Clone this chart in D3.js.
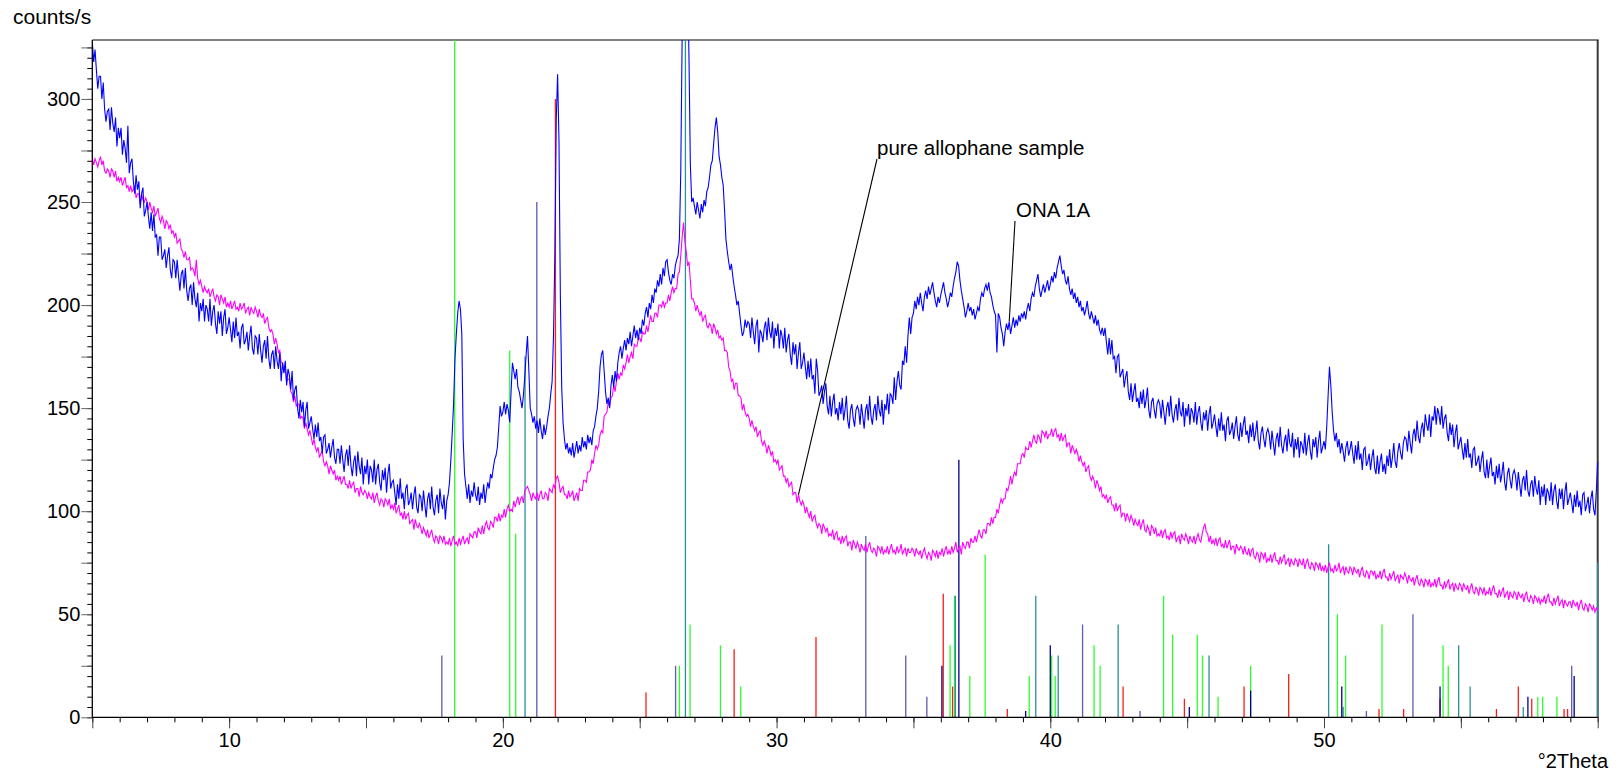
<!DOCTYPE html>
<html>
<head>
<meta charset="utf-8">
<script src="https://cdn.jsdelivr.net/npm/d3@7"></script>
<style>
  html, body { margin: 0; padding: 0; background: #fff; }
  svg { display: block; font-family: "Liberation Sans", Arial, sans-serif; }
</style>
</head>
<body>
<svg id="chart" width="1619" height="775"></svg>
<script>
// Scan grid (°2Theta): 5.00 ... 60.00 in steps of 0.05
const scanStart = 5.0;
const scanStep = 0.05;

// Measured pattern of sample ONA 1A (counts/s); one row per degree
const ona1A = [
  328,318,324,314,305,311,311,300,308,295,289,294,295,285,296,288,284,291,277,286,
  281,286,273,280,276,269,287,264,269,271,260,254,263,256,260,247,254,257,243,246,
  250,243,237,245,236,244,233,234,224,233,233,222,224,227,218,224,228,217,213,222,
  221,213,222,214,207,215,217,208,218,207,202,208,210,200,211,203,199,206,192,201,
  197,203,192,200,198,192,203,190,197,200,191,186,197,191,197,185,194,198,186,189,
  194,188,182,192,184,194,185,187,179,189,191,181,183,187,178,185,190,179,176,185,
  184,176,186,178,172,180,183,174,185,174,169,176,178,169,180,173,169,177,163,172,
  167,173,161,169,166,159,168,154,159,161,150,145,154,148,153,141,149,153,140,143,
  146,140,135,142,136,143,134,136,128,136,137,128,130,133,126,131,135,126,123,130,
  130,123,132,125,119,127,130,122,132,122,117,124,127,117,129,122,118,126,113,122,
  118,125,113,122,120,114,125,113,120,123,114,110,120,115,121,109,118,123,111,114,
  115,109,103,113,106,116,106,109,101,111,113,103,105,109,101,108,112,102,99,108,
  107,100,110,103,97,106,109,101,112,102,98,105,108,99,111,104,101,108,96,105,
  108,114,125,138,152,174,186,196,202,198,186,135,118,112,106,113,104,110,107,114,
  108,105,112,103,109,106,113,104,110,114,111,118,116,121,125,127,131,141,151,146,
  148,153,147,152,149,143,158,172,168,164,169,160,158,154,150,156,165,176,185,168,
  150,147,143,146,140,144,138,145,139,135,142,137,141,146,150,157,163,185,225,290,
  312,280,205,160,143,135,130,133,128,131,127,133,126,130,134,128,132,129,136,131,
  134,130,137,133,136,132,139,141,146,150,158,170,176,178,168,158,152,155,150,161,
  166,160,168,163,172,177,180,174,179,183,178,184,181,187,180,185,190,184,188,183,
  189,186,193,190,196,199,194,201,198,205,201,208,206,212,209,215,210,218,214,221,
  222,216,212,210,215,213,219,222,224,232,265,330,420,480,440,360,320,268,250,252,
  248,244,250,246,242,249,245,251,248,255,257,262,268,270,278,286,291,284,272,268,
  262,258,246,232,226,221,217,220,214,209,205,200,202,196,190,185,187,193,189,192,
  191,184,194,187,181,190,193,177,188,186,182,189,192,183,194,187,184,192,179,189,
  185,191,179,188,185,179,189,177,183,186,176,171,182,176,181,169,177,182,169,172,
  177,170,164,173,165,174,164,166,157,174,168,156,158,161,152,158,162,151,147,156,
  146,153,157,147,150,144,153,147,155,144,149,156,144,140,149,152,145,141,149,151,
  149,142,152,146,140,149,152,144,156,146,142,149,152,144,156,149,146,154,142,152,
  149,157,147,157,156,152,165,154,163,168,161,159,173,171,180,172,185,194,186,194,
  196,202,198,204,200,206,201,197,204,207,203,209,205,208,211,206,202,199,204,201,
  205,208,211,206,203,199,202,206,204,209,213,216,221,219,212,207,203,199,194,197,
  201,197,199,195,198,193,196,199,197,203,206,204,208,210,207,211,206,204,200,197,
  195,177,196,194,189,186,180,187,191,188,192,186,190,194,189,193,190,195,192,196,
  194,197,193,198,201,197,203,206,204,209,212,215,208,204,207,210,206,209,212,207,
  210,214,211,216,213,218,221,224,219,215,217,212,210,214,208,205,208,203,206,201,
  204,199,202,197,199,195,198,202,196,193,197,194,191,195,190,193,188,186,189,185,
  189,182,176,184,176,183,174,175,167,175,176,165,167,169,160,165,168,158,154,162,
  153,158,162,153,155,150,158,152,159,150,154,160,149,145,153,155,149,145,152,154,
  152,145,154,148,142,150,153,146,156,147,143,149,152,144,155,148,146,153,141,150,
  146,152,142,150,148,143,153,142,148,151,143,139,148,144,149,139,147,151,140,143,
  147,141,136,145,139,148,139,142,134,144,146,137,139,143,135,141,146,137,134,143,
  136,142,146,137,139,133,142,136,143,134,138,144,134,130,138,141,135,131,138,140,
  137,130,139,133,127,135,138,131,141,132,128,134,137,129,140,133,131,138,126,135,
  130,136,126,134,132,128,138,127,133,137,129,125,135,131,136,126,134,139,128,131,
  134,130,141,156,170,161,148,139,134,138,131,135,128,133,129,124,131,134,127,130,
  134,128,123,132,125,134,125,128,120,130,131,122,124,128,120,126,130,121,118,127,
  118,124,128,119,123,118,127,122,130,121,126,133,124,121,129,133,128,125,133,136,
  135,129,139,133,128,137,140,134,144,136,133,140,143,136,147,142,139,147,136,146,
  144,151,142,150,147,142,151,140,145,147,138,134,143,137,142,131,138,142,130,133,
  136,130,125,133,126,135,126,128,121,130,131,122,124,127,119,125,129,119,116,125,
  116,122,126,117,119,113,122,116,123,114,118,124,114,110,118,121,115,111,118,120,
  117,110,119,113,107,115,117,110,120,110,107,113,115,107,117,111,108,115,103,112,
  107,113,103,111,109,105,114,103,110,113,105,101,111,106,111,101,109,114,103,106,
  109,104,99,108,102,110,102,105,98,108,109,100,103,107,99,106,110,101,98,110,
  124
];

// Measured pattern of the pure allophane sample (counts/s); one row per degree
const allophane = [
  271,268,271,269,267,270,272,268,270,265,264,266,265,262,266,265,262,265,260,262,
  260,262,258,260,262,257,258,255,258,255,256,258,252,254,254,249,254,251,250,252,
  250,246,250,247,245,248,243,245,247,242,240,243,241,237,241,240,237,239,235,236,
  233,235,230,231,232,227,226,223,226,222,222,223,217,218,217,214,222,213,210,212,
  209,206,209,207,206,208,204,206,208,204,202,205,204,200,205,203,201,204,199,201,
  199,202,198,200,202,198,199,197,201,198,199,201,196,198,199,195,199,197,196,199,
  197,194,198,195,194,196,191,193,194,189,187,188,186,181,184,181,177,178,172,172,
  168,169,163,164,164,158,157,153,156,151,152,152,145,146,145,140,143,140,137,139,
  136,132,135,131,129,131,126,128,129,124,122,124,122,118,122,120,118,120,115,117,
  115,117,113,115,117,113,113,111,115,111,113,114,109,111,111,107,112,109,108,110,
  109,106,109,107,106,109,104,107,109,105,103,106,105,102,106,105,103,106,101,103,
  101,104,99,101,103,98,99,96,100,96,98,99,94,95,96,91,96,93,92,94,
  92,89,92,90,88,91,87,89,91,87,85,88,87,84,88,87,85,88,84,85,
  84,87,83,86,88,84,85,83,87,84,86,88,84,86,87,84,89,88,87,90,
  90,87,92,90,89,93,89,93,95,92,91,95,94,92,97,97,95,99,95,98,
  97,101,97,101,103,100,101,100,105,102,105,107,103,106,107,104,110,111,112,110,
  108,105,109,107,106,109,105,108,110,106,106,109,108,105,111,110,109,113,111,116,
  117,114,109,111,112,108,108,106,110,107,108,110,105,107,109,105,111,110,110,115,
  115,114,119,119,120,125,123,128,132,130,132,137,139,138,146,147,148,153,151,155,
  156,161,158,163,167,164,167,166,171,169,172,176,172,175,177,174,181,180,180,184,
  184,182,187,186,186,190,187,191,195,192,192,196,196,194,200,200,199,202,199,201,
  201,205,202,206,209,206,208,208,215,216,224,233,240,231,226,219,221,212,203,203,
  201,197,200,197,195,197,192,194,195,190,189,191,190,186,191,189,186,188,184,185,
  183,184,178,178,177,170,168,163,164,159,162,162,156,156,155,149,152,148,146,147,
  145,141,144,141,139,141,136,138,139,134,132,134,132,128,132,130,127,129,124,125,
  123,125,120,121,122,117,117,114,116,112,113,114,108,109,109,104,108,105,103,105,
  103,99,102,99,97,100,95,97,98,94,92,94,93,89,94,92,90,92,88,89,
  88,91,86,89,90,86,87,84,88,85,87,88,83,85,85,81,86,84,82,85,
  83,80,84,82,81,84,80,83,85,81,80,82,81,78,83,82,80,83,79,81,
  80,83,79,82,84,80,81,79,83,80,81,84,79,81,82,78,82,80,80,82,
  81,78,82,80,79,81,77,80,82,79,77,80,79,76,81,80,78,81,77,80,
  79,82,78,81,83,79,81,79,83,80,82,85,80,82,83,79,85,83,82,85,
  85,82,87,85,85,88,85,88,91,88,87,91,91,89,94,94,93,97,94,97,
  97,101,99,103,106,104,106,106,111,110,113,117,113,117,119,117,123,123,123,127,
  128,126,131,130,130,134,131,134,137,134,133,137,136,133,139,138,136,139,135,137,
  137,140,136,139,140,136,137,134,138,134,136,137,131,133,133,128,132,130,128,130,
  128,124,127,124,122,124,119,121,122,117,115,117,115,111,115,113,110,112,107,108,
  106,108,104,106,107,103,103,100,104,100,102,103,97,99,99,95,99,97,95,98,
  96,93,96,94,93,96,91,94,96,91,90,93,91,88,93,92,89,92,88,89,
  88,91,87,90,91,87,88,86,90,87,89,90,85,87,88,84,89,87,86,89,
  87,84,88,86,85,88,84,87,89,86,85,89,92,94,90,89,85,88,84,86,
  84,87,83,86,87,83,84,82,86,82,84,86,81,83,83,79,84,82,81,83,
  82,79,83,80,79,82,78,81,82,78,77,80,79,75,80,79,77,80,75,77,
  76,79,75,78,80,76,76,74,78,75,77,79,74,76,77,73,77,75,74,77,
  76,73,77,75,74,77,72,75,77,73,72,75,74,71,75,74,72,75,71,73,
  71,74,70,73,75,71,72,70,74,71,72,75,70,72,73,69,73,71,70,73,
  72,69,73,71,70,72,68,71,73,69,68,71,70,67,71,71,69,71,67,69,
  68,71,67,70,72,68,68,66,70,67,69,71,66,68,69,65,69,68,67,70,
  68,65,69,67,66,68,64,67,69,65,64,67,66,63,67,66,64,67,63,65,
  64,67,63,66,68,64,64,62,66,63,65,67,62,64,65,61,65,63,62,65,
  64,61,65,63,62,64,60,63,65,61,60,63,62,59,63,62,60,63,59,61,
  60,63,59,62,64,60,60,58,62,59,61,63,58,60,61,57,61,59,58,61,
  60,57,61,59,58,60,56,59,61,57,56,59,58,55,59,58,56,58,55,57,
  56,59,55,58,60,56,56,54,58,55,57,59,54,56,57,53,57,55,54,56,
  56,53,57,55,54,56,52,55,57,53,52,55,54,51,55,54,52,54,51,53,
  52
];

// Reference line patterns: positions (°2Theta) and intensities per phase
const greenPos = [18.24, 20.25, 20.47, 26.45, 26.84, 27.95, 28.69, 36.34, 36.50, 37.06, 37.62, 39.23, 40.05, 40.18, 41.60, 41.82, 44.14, 44.47, 45.37, 45.56, 46.13, 47.32, 50.49, 50.79, 52.12, 54.35, 54.54, 57.81, 57.99, 58.51];
const greenInt = [340, 178, 89, 25, 45, 35, 15, 35, 59, 20, 79, 20, 30, 20, 35, 25, 59, 40, 40, 30, 10, 25, 50, 30, 45, 35, 25, 10, 10, 10];

const redPos = [21.92, 25.23, 28.45, 31.44, 36.09, 36.43, 38.43, 42.66, 44.90, 47.08, 48.71, 52.01, 52.91, 54.24, 56.30, 57.10, 57.59, 58.77, 58.90];
const redInt = [300, 12, 33, 39, 60, 15, 4, 15, 9, 15, 21, 4, 4, 9, 4, 15, 9, 4, 4];

const slatePos = [17.77, 21.24, 26.31, 33.26, 34.72, 35.49, 41.18, 43.28, 51.55, 53.25, 59.05];
const slateInt = [30, 250, 25, 88, 30, 10, 45, 3, 3, 50, 25];

const tealPos = [20.81, 26.67, 36.53, 39.47, 40.29, 42.48, 45.80, 50.17, 50.70, 54.92, 55.34, 57.28, 60.00];
const tealInt = [175, 340, 59, 59, 30, 45, 30, 84, 5, 35, 15, 5, 75];

const navyPos = [36.04, 36.66, 39.10, 40.00, 45.08, 47.32, 50.65, 54.24, 57.45, 59.14];
const navyInt = [25, 125, 3, 35, 5, 13, 15, 15, 10, 20];

// Axis tick values
const xMinorTicks = d3.range(5, 61, 1);
const xMajorTicks = d3.range(5, 61, 5);
const xLabelTicks = [10, 20, 30, 40, 50];
const yMinorTicks = d3.range(0, 330, 5);
const yMajorTicks = d3.range(0, 330, 25);
const yLabelTicks = [0, 50, 100, 150, 200, 250, 300];

// Chart geometry
const svg = d3.select("#chart");
const plot = { left: 92.3, right: 1597.7, top: 40, bottom: 717.3 };
const x = d3.scaleLinear().domain([5, 60]).range([plot.left, plot.right]);
const y = d3.scaleLinear().domain([0, 328.6]).range([plot.bottom, plot.top]);
const angleAt = i => scanStart + i * scanStep;

svg.append("defs").append("clipPath").attr("id", "plotClip")
  .append("rect")
  .attr("x", plot.left).attr("y", plot.top)
  .attr("width", plot.right - plot.left + 1.5).attr("height", plot.bottom - plot.top);

// Frame: top and right edges (drawn beneath the data)
svg.append("line")
  .attr("x1", plot.left).attr("x2", plot.right + 1)
  .attr("y1", plot.top).attr("y2", plot.top)
  .attr("stroke", "#808080").attr("stroke-width", 2);
svg.append("line")
  .attr("x1", plot.right).attr("x2", plot.right)
  .attr("y1", plot.top).attr("y2", plot.bottom)
  .attr("stroke", "#3a3a3a").attr("stroke-width", 2);

const marks = svg.append("g").attr("clip-path", "url(#plotClip)");

// Reference sticks
const phases = [
  { pos: greenPos, val: greenInt, color: "#2bff2b" },
  { pos: redPos, val: redInt, color: "#ff1a1a" },
  { pos: slatePos, val: slateInt, color: "#5c5cb4" },
  { pos: tealPos, val: tealInt, color: "#2a8f9a" },
  { pos: navyPos, val: navyInt, color: "#00008b" }
];
phases.forEach(ph => {
  marks.append("g").selectAll("line")
    .data(ph.pos.map((p, i) => [p, ph.val[i]]))
    .join("line")
    .attr("x1", d => x(d[0])).attr("x2", d => x(d[0]))
    .attr("y1", y(0)).attr("y2", d => y(d[1]))
    .attr("stroke", ph.color)
    .attr("stroke-width", 1.3);
});

// Measured traces
const line = d3.line()
  .x((d, i) => x(angleAt(i)))
  .y(d => y(d));

marks.append("path").datum(allophane)
  .attr("d", line).attr("fill", "none")
  .attr("stroke", "#ff00ff").attr("stroke-width", 1.1);

marks.append("path").datum(ona1A)
  .attr("d", line).attr("fill", "none")
  .attr("stroke", "#0000ff").attr("stroke-width", 1.1);

// Axes
const fontSize = 20;
function styleAxis(g, tickColor) {
  g.select(".domain").remove();
  g.selectAll(".tick line").attr("stroke", tickColor);
  g.selectAll("text").attr("font-size", fontSize).attr("fill", "#000")
    .attr("font-family", "\"Liberation Sans\", Arial, sans-serif");
}

svg.append("g").attr("transform", `translate(0,${plot.bottom})`)
  .call(d3.axisBottom(x).tickValues(xMinorTicks).tickSize(5).tickFormat(""))
  .call(g => styleAxis(g, "#000"));
svg.append("g").attr("transform", `translate(0,${plot.bottom})`)
  .call(d3.axisBottom(x).tickValues(xMajorTicks).tickSize(11).tickPadding(5)
    .tickFormat(d => xLabelTicks.includes(d) ? d : ""))
  .call(g => styleAxis(g, "#444"));

svg.append("g").attr("transform", `translate(${plot.left},0)`)
  .call(d3.axisLeft(y).tickValues(yMinorTicks).tickSize(5).tickFormat(""))
  .call(g => styleAxis(g, "#000"));
svg.append("g").attr("transform", `translate(${plot.left},0)`)
  .call(d3.axisLeft(y).tickValues(yMajorTicks).tickSize(11).tickPadding(1)
    .tickFormat(d => yLabelTicks.includes(d) ? d : ""))
  .call(g => styleAxis(g, "#666"));

// Axis lines
svg.append("line")
  .attr("x1", plot.left).attr("x2", plot.right)
  .attr("y1", plot.bottom).attr("y2", plot.bottom)
  .attr("stroke", "#000").attr("stroke-width", 1.3);
svg.append("line")
  .attr("x1", plot.left).attr("x2", plot.left)
  .attr("y1", plot.top).attr("y2", plot.bottom)
  .attr("stroke", "#000").attr("stroke-width", 1.3);

// Axis titles
svg.append("text").attr("x", 13).attr("y", 24)
  .attr("font-size", 21).text("counts/s");
svg.append("text").attr("x", 1608).attr("y", 768)
  .attr("text-anchor", "end").attr("font-size", 20).text("°2Theta");

// Curve labels with leader lines
const labels = [
  { text: "pure allophane sample", tx: 877, ty: 155, lx: 877, ly: 159, angle: 30.8, data: allophane },
  { text: "ONA 1A", tx: 1016, ty: 217, lx: 1015, ly: 221, angle: 38.5, data: ona1A }
];
labels.forEach(l => {
  const idx = Math.round((l.angle - scanStart) / scanStep);
  svg.append("line")
    .attr("x1", l.lx).attr("y1", l.ly)
    .attr("x2", x(l.angle)).attr("y2", y(l.data[idx]))
    .attr("stroke", "#000").attr("stroke-width", 1.1);
  svg.append("text").attr("x", l.tx).attr("y", l.ty)
    .attr("font-size", 20.5).text(l.text);
});
</script>
</body>
</html>
